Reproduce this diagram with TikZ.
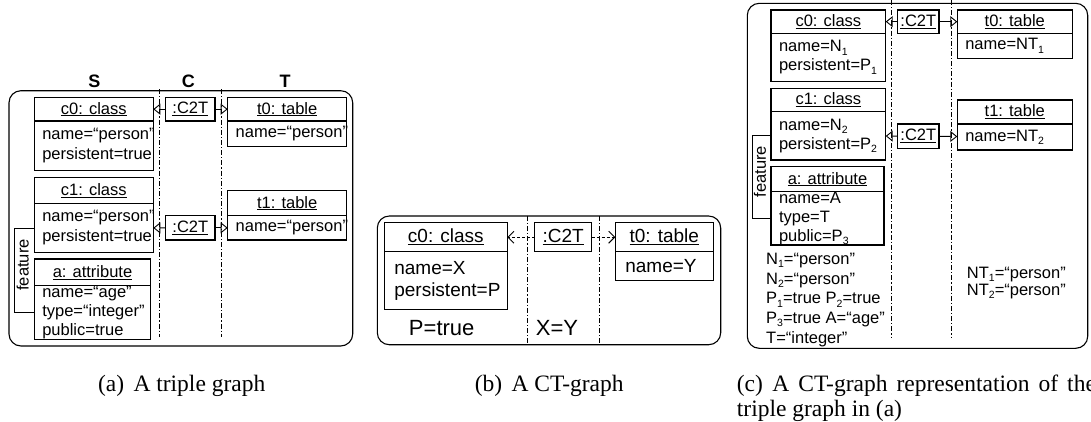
\documentclass[tikz,border=0pt]{standalone}
\usepackage{fontspec}
\setmainfont{Liberation Sans}
\newfontfamily\capfont{Liberation Serif}
\usepackage{tikz}
\usetikzlibrary{arrows.meta}
\newcommand{\ix}[1]{\raisebox{-0.35ex}{\fontsize{10.5}{11}\selectfont #1}}
\tikzset{
	box/.style={draw, line width=1.1pt, anchor=north west, inner sep=0pt, outer sep=0pt},
	attrs/.style={box, align=left, inner xsep=8pt},
	lane/.style={line width=0.8pt, dash pattern=on 5pt off 2pt on 1.2pt off 2pt},
	panel/.style={draw, line width=1.1pt, rounded corners=12pt},
	link/.style={line width=0.9pt, -{Triangle[open, length=7pt, width=11pt]}},
	dlink/.style={line width=0.9pt, dash pattern=on 3pt off 2pt, -{Straight Barb[length=6pt, width=12pt]}},
	captext/.style={font=\capfont\fontsize{23.5}{25.5}\selectfont},
}

\begin{document}
\begin{tikzpicture}[x=1pt,y=-1pt]
	\useasboundingbox (0,0) rectangle (1091,421) ;
	% (a) triple graph
	\begin{scope}[font=\fontsize{16.5}{20}\selectfont]
		\draw[panel] (9,90.7) rectangle (352.7,346) ;
		\draw[lane] (159.3,89) -- (159.3,337) ;
		\draw[lane] (221.7,89) -- (221.7,337) ;
		\node (sa) at (94.3,81)[font=\fontsize{18}{20}\selectfont\bfseries]{S} ;
		\node (ca) at (188.3,81)[font=\fontsize{18}{20}\selectfont\bfseries]{C} ;
		\node (ta) at (285,81)[font=\fontsize{18}{20}\selectfont\bfseries]{T} ;
		\node (c0a) at (34.3,97.3)[box, minimum width=119pt, minimum height=23.7pt]{\underline{c0: class}} ;
		\node (c0ab) at (c0a.south west)[attrs, text width=103pt, minimum height=49.7pt]{name=“person”\\persistent=true} ;
		\node (c1a) at (34.3,177.3)[box, minimum width=119pt, minimum height=26pt]{\underline{c1: class}} ;
		\node (c1ab) at (c1a.south west)[attrs, text width=103pt, minimum height=49.4pt]{name=“person”\\persistent=true} ;
		\node (aa) at (34.3,259)[box, minimum width=116.4pt, minimum height=26.7pt]{\underline{a: attribute}} ;
		\node (aab) at (aa.south west)[attrs, text width=100.4pt, minimum height=53.8pt, font=\fontsize{16.5}{19}\selectfont]{name=“age”\\type=“integer”\\public=true} ;
		\node (ct0a) at (165.7,97.3)[box, minimum width=49.3pt, minimum height=23.7pt]{\underline{:C2T}} ;
		\node (ct1a) at (165.7,215.7)[box, minimum width=49.3pt, minimum height=24.3pt]{\underline{:C2T}} ;
		\node (t0a) at (227.7,97.3)[box, minimum width=119pt, minimum height=23.7pt]{\underline{t0: table}} ;
		\node (t0ab) at (t0a.south west)[attrs, text width=103pt, minimum height=25.7pt]{name=“person”} ;
		\node (t1a) at (227.7,190.7)[box, minimum width=119pt, minimum height=25pt]{\underline{t1: table}} ;
		\node (t1ab) at (t1a.south west)[attrs, text width=103pt, minimum height=24.3pt]{name=“person”} ;
		\node (fa) at (22.7,265)[rotate=90]{feature} ;
		\draw[line width=0.9pt] (c1ab.west) -- ++(-20,0) |- (aab.west) ;
		\draw[link] (ct0a) -- (c0a) ;
		\draw[link] (ct0a) -- (t0a) ;
		\draw[link] (ct1a) -- (c1ab) ;
		\draw[link] (ct1a) -- (t1ab) ;
	\end{scope}
	% (b) CT-graph
	\begin{scope}[font=\fontsize{19}{22}\selectfont]
		\draw[panel] (377.3,216) rectangle (720.7,344.7) ;
		\draw[lane] (527.7,216) -- (527.7,344.7) ;
		\draw[lane] (599.3,216) -- (599.3,344.7) ;
		\node (c0b) at (384.3,222.7)[box, minimum width=123pt, minimum height=29pt]{\underline{c0: class}} ;
		\node (c0bb) at (c0b.south west)[attrs, inner xsep=10pt, text width=103pt, minimum height=57.6pt]{name=X\\persistent=P} ;
		\node (ct0b) at (534.7,222.7)[box, minimum width=57pt, minimum height=29pt]{\underline{:C2T}} ;
		\node (t0b) at (615.3,222.7)[box, minimum width=98pt, minimum height=29pt]{\underline{t0: table}} ;
		\node (t0bb) at (t0b.south west)[attrs, inner xsep=10pt, text width=78pt, minimum height=29pt]{name=Y} ;
		\draw[dlink] (ct0b) -- (c0b) ;
		\draw[dlink] (ct0b) -- (t0b) ;
		\node (ptb) at (441.7,328.3)[font=\fontsize{22}{24}\selectfont]{P=true} ;
		\node (xyb) at (557,328.3)[font=\fontsize{22}{24}\selectfont]{X=Y} ;
	\end{scope}
	% (c) CT-graph of (a)
	\begin{scope}[font=\fontsize{16.5}{19}\selectfont]
		\draw[panel] (747.3,3.3) rectangle (1087.7,348.3) ;
		\draw[lane] (891.7,0) -- (891.7,338) ;
		\draw[lane] (951.7,0) -- (951.7,338) ;
		\node (c0c) at (771,10)[box, minimum width=114.7pt, minimum height=23.3pt]{\underline{c0: class}} ;
		\node (c0cb) at (c0c.south west)[attrs, text width=98.7pt, minimum height=48.4pt]{name=N\ix{1}\\persistent=P\ix{1}} ;
		\node (c1c) at (771,88.3)[box, minimum width=114.7pt, minimum height=23.4pt]{\underline{c1: class}} ;
		\node (c1cb) at (c1c.south west)[attrs, text width=98.7pt, minimum height=48.3pt]{name=N\ix{2}\\persistent=P\ix{2}} ;
		\node (ac) at (771,166.7)[box, minimum width=113pt, minimum height=25pt]{\underline{a: attribute}} ;
		\node (acb) at (ac.south west)[attrs, text width=97pt, minimum height=53.3pt]{name=A\\type=T\\public=P\ix{3}} ;
		\node (ct0c) at (897.7,10)[box, minimum width=41.3pt, minimum height=23.3pt]{\underline{:C2T}} ;
		\node (ct1c) at (897.7,124)[box, minimum width=41.3pt, minimum height=24.3pt]{\underline{:C2T}} ;
		\node (t0c) at (957.3,10)[box, minimum width=115pt, minimum height=23.3pt]{\underline{t0: table}} ;
		\node (t0cb) at (t0c.south west)[attrs, text width=99pt, minimum height=25pt]{name=NT\ix{1}} ;
		\node (t1c) at (957.3,100)[box, minimum width=115pt, minimum height=24pt]{\underline{t1: table}} ;
		\node (t1cb) at (t1c.south west)[attrs, text width=99pt, minimum height=26pt]{name=NT\ix{2}} ;
		\node (fc) at (760,171.7)[rotate=90]{feature} ;
		\draw[line width=0.9pt] (c1cb.west) -- ++(-18.3,0) |- (acb.west) ;
		\draw[link] (ct0c) -- (c0c) ;
		\draw[link] (ct0c) -- (t0c) ;
		\draw[link] (ct1c) -- (c1cb) ;
		\draw[link] (ct1c) -- (t1cb) ;
		\node (eqsc) at (766,300)[anchor=west, align=left, inner sep=0pt, font=\fontsize{16.5}{19.8}\selectfont]{N\ix{1}=“person”\\N\ix{2}=“person”\\P\ix{1}=true P\ix{2}=true\\P\ix{3}=true A=“age”\\T=“integer”} ;
		\node (eqtc) at (966.7,283.3)[anchor=west, align=left, inner sep=0pt, font=\fontsize{16.5}{17}\selectfont]{NT\ix{1}=“person”\\NT\ix{2}=“person”} ;
	\end{scope}
	% captions
	\node (capa) at (181.7,386)[captext]{(a)\hspace{0.4em}A triple graph} ;
	\node (capb) at (549.2,386)[captext]{(b)\hspace{0.4em}A CT-graph} ;
	\node (capc) at (736.7,398.5)[captext, anchor=west, align=left, inner sep=0pt]{\hbox to 359pt{(c)\hspace{0.4em}A CT-graph representation of the}\\triple graph in (a)} ;
\end{tikzpicture}
\end{document}
